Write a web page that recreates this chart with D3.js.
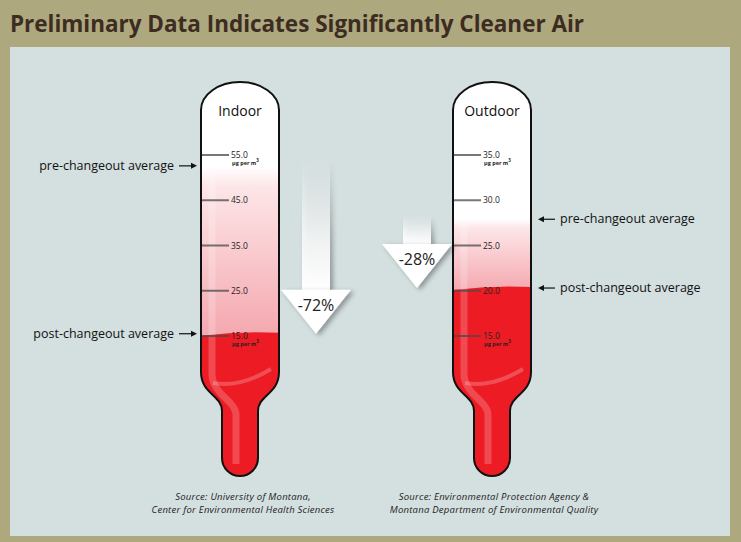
<!DOCTYPE html>
<html>
<head>
<meta charset="utf-8">
<script src="https://cdn.jsdelivr.net/npm/d3@7"></script>
<style>
  body { margin: 0; background: #ada87e; }
  svg { display: block; font-family: "Open Sans", sans-serif; }
</style>
</head>
<body>
<div id="chart"></div>
<script>
// Chart data
const panels = ['Indoor', 'Outdoor'];
const tickValues = [[55, 45, 35, 25, 15], [35, 30, 25, 20, 15]];
const tickDomains = [[15, 55], [15, 35]];
const preAvg = [52.6, 27.9];
const postAvg = [15.5, 20.3];
const changeLabels = ['-72%', '-28%'];
const sources = [
  ['Source: University of Montana,', 'Center for Environmental Health Sciences'],
  ['Source: Environmental Protection Agency &', 'Montana Department of Environmental Quality']
];
const unitLabel = 'µg per m';

const W = 741, H = 542;
const svg = d3.select('#chart').append('svg').attr('width', W).attr('height', H);
const defs = svg.append('defs');

svg.append('rect').attr('width', W).attr('height', H).attr('fill', '#ada87e');
svg.append('rect').attr('x', 10).attr('y', 47).attr('width', 720).attr('height', 489).attr('fill', '#d4dfe0');

svg.append('text')
  .attr('x', 10).attr('y', 32)
  .attr('font-size', 24).attr('font-weight', 700)
  .attr('fill', '#3d2c22')
  .attr('textLength', 574).attr('lengthAdjust', 'spacingAndGlyphs')
  .text('Preliminary Data Indicates Significantly Cleaner Air');

// gradients / filters
const pink = defs.append('linearGradient').attr('id', 'pink').attr('x1', 0).attr('x2', 0).attr('y1', 0).attr('y2', 1);
pink.append('stop').attr('offset', 0).attr('stop-color', '#ffffff');
pink.append('stop').attr('offset', 0.12).attr('stop-color', '#fde6e8');
pink.append('stop').attr('offset', 1).attr('stop-color', '#f4a7ae');

const shaftGrad = defs.append('linearGradient').attr('id', 'shaft').attr('x1', 0).attr('x2', 0).attr('y1', 0).attr('y2', 1);
shaftGrad.append('stop').attr('offset', 0).attr('stop-color', '#ffffff').attr('stop-opacity', 0.05);
shaftGrad.append('stop').attr('offset', 0.6).attr('stop-color', '#ffffff').attr('stop-opacity', 0.75);
shaftGrad.append('stop').attr('offset', 1).attr('stop-color', '#ffffff').attr('stop-opacity', 1);

const shadow = defs.append('filter').attr('id', 'shadow').attr('x', -0.3).attr('y', -0.3).attr('width', 1.6).attr('height', 1.6);
shadow.append('feDropShadow').attr('dx', 3).attr('dy', 2).attr('stdDeviation', 2.5)
  .attr('flood-color', '#000').attr('flood-opacity', 0.35);

const centers = [240, 492];
const arrowX = [316, 417];
const sourceX = [243, 494];
const tubeTop = 82, hw = 39, domeH = 28, tubeBottom = 372, neckTop = 411, neckHW = 18, neckBottom = 458;

function bulbPath(cx) {
  return `M${cx - hw},${tubeTop + domeH} A${hw},${domeH} 0 0 1 ${cx + hw},${tubeTop + domeH}` +
    ` L${cx + hw},${tubeBottom} C${cx + hw},${tubeBottom + 22} ${cx + neckHW},${neckTop - 16} ${cx + neckHW},${neckTop}` +
    ` L${cx + neckHW},${neckBottom} A${neckHW},${neckHW} 0 0 1 ${cx - neckHW},${neckBottom}` +
    ` L${cx - neckHW},${neckTop} C${cx - neckHW},${neckTop - 16} ${cx - hw},${tubeBottom + 22} ${cx - hw},${tubeBottom} Z`;
}

panels.forEach((name, i) => {
  const cx = centers[i];
  const y = d3.scaleLinear().domain(tickDomains[i]).range([336, 155]);
  const g = svg.append('g');

  defs.append('clipPath').attr('id', 'clip' + i).append('path').attr('d', bulbPath(cx));
  const inner = g.append('g').attr('clip-path', `url(#clip${i})`);

  inner.append('path').attr('d', bulbPath(cx)).attr('fill', '#ffffff');
  inner.append('rect')
    .attr('x', cx - hw).attr('width', hw * 2)
    .attr('y', y(preAvg[i])).attr('height', y(postAvg[i]) - y(preAvg[i]) + 4)
    .attr('fill', 'url(#pink)');
  const ry = y(postAvg[i]);
  inner.append('path')
    .attr('d', `M${cx - hw},${ry + 2} Q${cx},${ry - 3} ${cx + hw},${ry - 1} L${cx + hw},500 L${cx - hw},500 Z`)
    .attr('fill', '#ed1c24');

  // highlights
  inner.append('path')
    .attr('d', `M${cx - hw + 11},${tubeTop + 30} L${cx - hw + 11},${tubeBottom + 2} C${cx - hw + 11},${tubeBottom + 22} ${cx - 4},${neckTop - 10} ${cx - 4},${neckTop + 4} L${cx - 4},${neckBottom + 6}`)
    .attr('fill', 'none').attr('stroke', '#ffffff').attr('stroke-opacity', 0.2).attr('stroke-width', 7);
  inner.append('path')
    .attr('d', `M${cx - hw + 12},${tubeBottom + 11} Q${cx},${tubeBottom + 16} ${cx + hw - 8},${tubeBottom - 3}`)
    .attr('fill', 'none').attr('stroke', '#ffffff').attr('stroke-opacity', 0.22).attr('stroke-width', 4);

  // ticks
  const ticks = g.selectAll('g.tick').data(tickValues[i]).enter().append('g')
    .attr('transform', d => `translate(0,${y(d)})`);
  ticks.append('line')
    .attr('x1', cx - hw).attr('x2', cx - hw + 28)
    .attr('stroke', '#4a4a4a').attr('stroke-opacity', 0.75).attr('stroke-width', 2);
  ticks.append('text')
    .attr('x', cx - hw + 30).attr('y', 3)
    .attr('font-size', 8.5).attr('fill', '#222')
    .text(d => d.toFixed(1));
  const ends = [tickValues[i][0], tickValues[i][tickValues[i].length - 1]];
  const units = g.selectAll('text.unit').data(ends).enter().append('text')
    .attr('x', cx - hw + 31).attr('y', d => y(d) + 10)
    .attr('font-size', 5.5).attr('font-weight', 700).attr('fill', '#222');
  units.append('tspan').text(unitLabel);
  units.append('tspan').attr('dy', -3).attr('font-size', 4.5).text('3');

  g.append('path').attr('d', bulbPath(cx))
    .attr('fill', 'none').attr('stroke', '#111').attr('stroke-width', 2);

  g.append('text').attr('x', cx).attr('y', 116).attr('text-anchor', 'middle')
    .attr('font-size', 14).attr('fill', '#111').text(name);

  // average labels
  const labels = [['pre-changeout average', preAvg[i]], ['post-changeout average', postAvg[i]]];
  labels.forEach(([txt, v]) => {
    const ly = y(v);
    if (i === 0) {
      g.append('line').attr('x1', 179).attr('x2', 192).attr('y1', ly).attr('y2', ly).attr('stroke', '#111').attr('stroke-width', 1.2);
      g.append('path').attr('d', `M197,${ly} L191,${ly - 3} L191,${ly + 3} Z`).attr('fill', '#111');
      g.append('text').attr('x', 174).attr('y', ly + 4).attr('text-anchor', 'end')
        .attr('font-size', 12.5).attr('fill', '#111').text(txt);
    } else {
      g.append('line').attr('x1', 543).attr('x2', 555).attr('y1', ly).attr('y2', ly).attr('stroke', '#111').attr('stroke-width', 1.2);
      g.append('path').attr('d', `M538,${ly} L544,${ly - 3} L544,${ly + 3} Z`).attr('fill', '#111');
      g.append('text').attr('x', 560).attr('y', ly + 4)
        .attr('font-size', 12.5).attr('fill', '#111').text(txt);
    }
  });

  // change arrow
  const ax = arrowX[i];
  const yTop = y(preAvg[i]) - 3, yTip = y(postAvg[i]);
  const yHead = yTip - 44;
  const ag = svg.append('g');
  ag.append('rect').attr('x', ax - 14).attr('y', yTop).attr('width', 28).attr('height', yHead - yTop + 1)
    .attr('fill', 'url(#shaft)').attr('filter', 'url(#shadow)');
  ag.append('path').attr('d', `M${ax - 35},${yHead} L${ax + 35},${yHead} L${ax},${yTip} Z`)
    .attr('fill', '#ffffff').attr('filter', 'url(#shadow)');
  ag.append('text').attr('x', ax).attr('y', yHead + 21).attr('text-anchor', 'middle')
    .attr('font-size', 16).attr('fill', '#222').text(changeLabels[i]);

  // sources (two separate lines)
  sources[i].forEach((line, k) => {
    svg.append('text').attr('x', sourceX[i]).attr('y', 500 + k * 13).attr('text-anchor', 'middle')
      .attr('font-size', 9.5).attr('letter-spacing', 0.25).attr('font-style', 'italic').attr('fill', '#222')
      .text(line);
  });
});
</script>
</body>
</html>
